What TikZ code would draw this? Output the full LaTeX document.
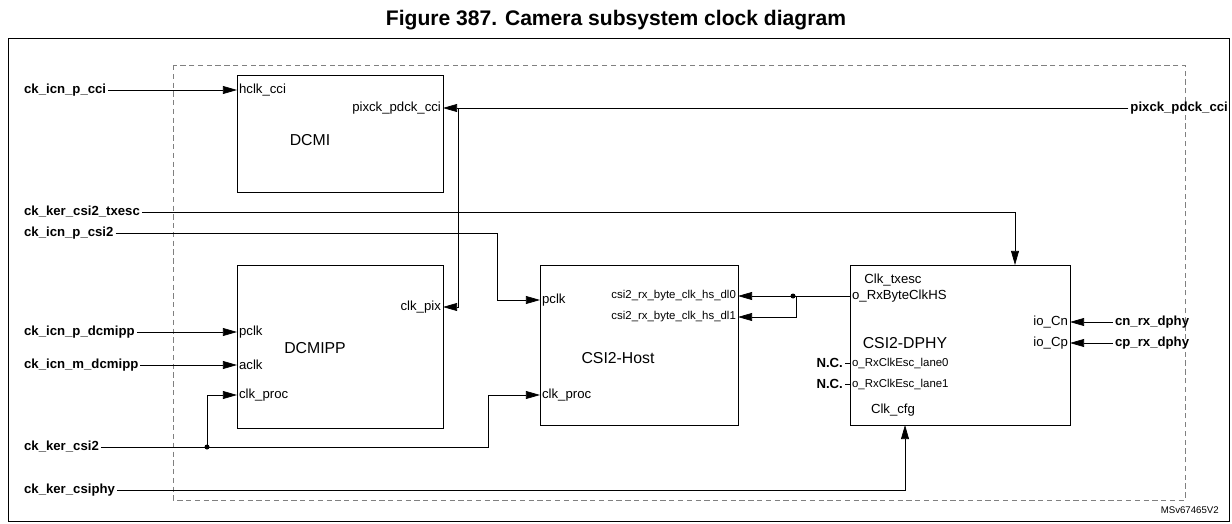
\documentclass[tikz,border=0pt]{standalone}
\usepackage{fontspec}
\setmainfont{Liberation Sans}
\usetikzlibrary{arrows.meta}
\begin{document}
\begin{tikzpicture}[x=0.02cm,y=-0.02cm,font=\fontsize{7.5}{9}\selectfont,
  >={Triangle[length=8pt,width=4.5pt]},
  blk/.style={draw,thin},
  sig/.style={font=\bfseries\fontsize{7.5}{9}\selectfont},
  pin/.style={inner sep=1pt}]
   \useasboundingbox (0,0) rectangle (1232,524);
   \node[font=\bfseries\fontsize{12}{14}\selectfont] (title) at (616,20) {Figure 387. Camera subsystem clock diagram};
   \draw[thin] (8,38) rectangle (1229,521);
   \draw[gray,densely dashed,very thin] (173,65) rectangle (1185,500);
   % blocks
   \draw[blk] (237,75) rectangle (443,192);
   \draw[blk] (237,265) rectangle (443,428);
   \draw[blk] (540,265) rectangle (738,425);
   \draw[blk] (850,265) rectangle (1070,425);
   \begin{scope}[every node/.style={pin}]
    \node[anchor=west] (hclk) at (237,90) {hclk\_cci};
    \node[anchor=east] (pixck) at (443,108) {pixck\_pdck\_cci};
    \node[font=\fontsize{9}{11}\selectfont] (dcmi) at (310,140) {DCMI};
    \node[anchor=east] (clkpix) at (443,307) {clk\_pix};
    \node[anchor=west] (pclka) at (237,332) {pclk};
    \node[anchor=west] (aclk) at (237,365) {aclk};
    \node[anchor=west] (proca) at (237,395) {clk\_proc};
    \node[font=\fontsize{9}{11}\selectfont] (dcmipp) at (315,348) {DCMIPP};
    \node[anchor=west] (pclkb) at (540,300) {pclk};
    \node[anchor=west] (procb) at (540,395) {clk\_proc};
    \node[anchor=east,font=\fontsize{6.5}{8}\selectfont] (dlz) at (738,296) {csi2\_rx\_byte\_clk\_hs\_dl0};
    \node[anchor=east,font=\fontsize{6.5}{8}\selectfont] (dlo) at (738,317) {csi2\_rx\_byte\_clk\_hs\_dl1};
    \node[font=\fontsize{9}{11}\selectfont] (host) at (618,358) {CSI2-Host};
    \node (txesc) at (893,280) {Clk\_txesc};
    \node[anchor=west] (rxbyte) at (850,296) {o\_RxByteClkHS};
    \node[anchor=east] (cn) at (1070,322) {io\_Cn};
    \node[anchor=east] (cp) at (1070,343) {io\_Cp};
    \node[font=\fontsize{9}{11}\selectfont] (dphy) at (905,343) {CSI2-DPHY};
    \node[anchor=west,font=\fontsize{6.5}{8}\selectfont] (esca) at (850,363) {o\_RxClkEsc\_lane0};
    \node[anchor=west,font=\fontsize{6.5}{8}\selectfont] (escb) at (850,384) {o\_RxClkEsc\_lane1};
    \node (cfg) at (893,410) {Clk\_cfg};
   \end{scope}
   % signals
   \begin{scope}[every node/.style={sig,pin}]
    \node[anchor=west] (s1) at (22,90) {ck\_icn\_p\_cci};
    \node[anchor=west] (s2) at (22,212) {ck\_ker\_csi2\_txesc};
    \node[anchor=west] (s3) at (22,233) {ck\_icn\_p\_csi2};
    \node[anchor=west] (s4) at (22,332) {ck\_icn\_p\_dcmipp};
    \node[anchor=west] (s5) at (22,365) {ck\_icn\_m\_dcmipp};
    \node[anchor=west] (s6) at (22,447) {ck\_ker\_csi2};
    \node[anchor=west] (s7) at (22,490) {ck\_ker\_csiphy};
    \node[anchor=east] (s8) at (1230,108) {pixck\_pdck\_cci};
    \node[anchor=west] (s9) at (1113,322) {cn\_rx\_dphy};
    \node[anchor=west] (s10) at (1113,343) {cp\_rx\_dphy};
    \node[anchor=east] (nca) at (845,363) {N.C.};
    \node[anchor=east] (ncb) at (845,384) {N.C.};
   \end{scope}
   \node[font=\fontsize{5.5}{7}\selectfont,anchor=east] (ref) at (1225,510) {MSv67465V2};
   % connectors
   \draw[->] (s1) -- (237,90);
   \draw[->] (s8) -- (443,108);
   \draw[->] (458,108) -- (458,307) -- (443,307);
   \draw[->] (s2) -- (1015,212) -- (1015,265);
   \draw[->] (s3) -- (497,233) -- (497,300) -- (540,300);
   \draw[->] (s4) -- (237,332);
   \draw[->] (s5) -- (237,365);
   \draw[->] (s6) -- (488,447) -- (488,395) -- (540,395);
   \draw[->] (207,447) -- (207,395) -- (237,395);
   \fill (207,447) circle (2.5);
   \draw[->] (s7) -- (905,490) -- (905,425);
   \draw[->] (850,296) -- (738,296);
   \draw[->] (793,296) -- (796,296) -- (796,317) -- (738,317);
   \fill (793,296) circle (2.5);
   \draw[->] (s9) -- (1070,322);
   \draw[->] (s10) -- (1070,343);
   \draw (nca) -- (850,363);
   \draw (ncb) -- (850,384);
\end{tikzpicture}
\end{document}
